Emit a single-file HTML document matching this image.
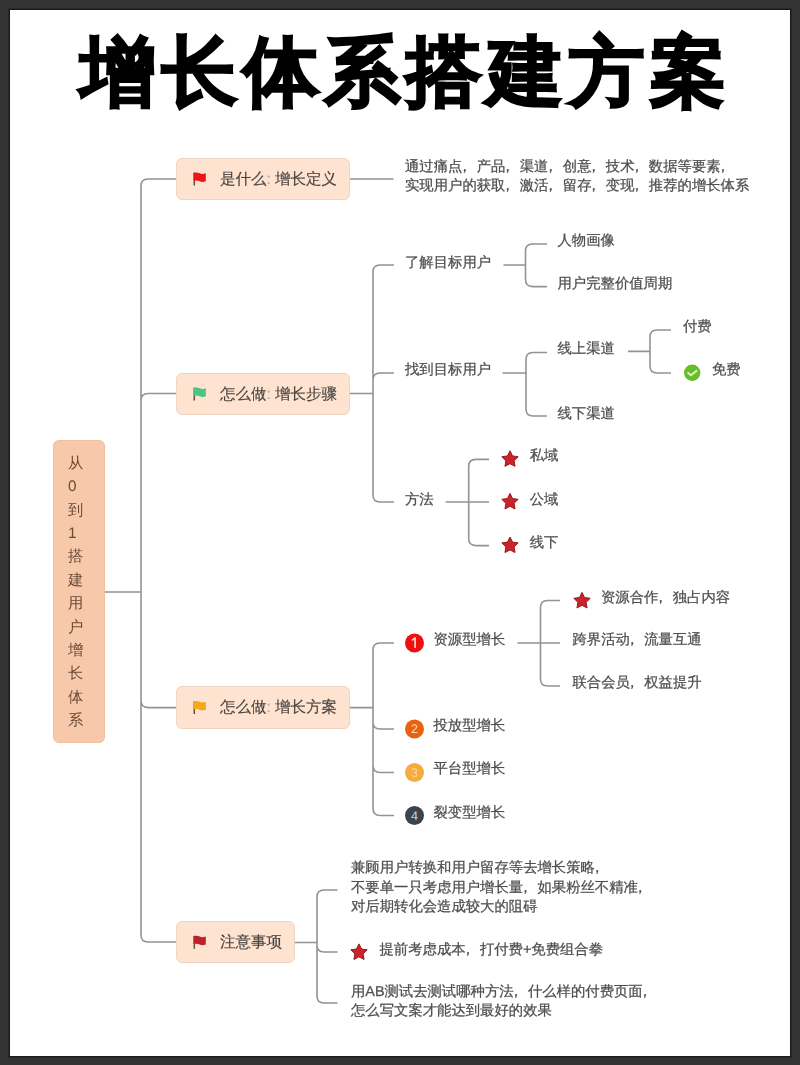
<!DOCTYPE html>
<html><head><meta charset="utf-8"><style>
html,body{margin:0;padding:0;}
*{text-rendering:geometricPrecision;}
body{width:800px;height:1065px;background:#333;position:relative;overflow:hidden;font-family:"Liberation Sans",sans-serif;}
.page{position:absolute;left:9.5px;top:10px;width:780.5px;height:1045.5px;background:#fff;box-shadow:0 0 0 1.5px #1c1c1c;}
.title{position:absolute;left:3px;top:22.5px;width:800px;text-align:center;font-size:76px;line-height:100px;font-weight:bold;color:#000;white-space:nowrap;letter-spacing:5.4px;text-indent:5.4px;-webkit-text-stroke:2.2px #000;}
.t{position:absolute;white-space:nowrap;transform:translateZ(0);-webkit-text-stroke:0.25px currentColor;}
.node{position:absolute;box-sizing:border-box;background:#fde3d0;border:1px solid #ecd5c2;border-radius:6px;}
.root{position:absolute;left:53px;top:440px;width:52px;height:303px;box-sizing:border-box;background:#f7c9aa;border:1px solid #efbf9f;border-radius:6px;}
.c{color:#b8aaa0;}
.cm{position:relative;left:-0.34em;margin-right:-0.0em;}
svg{position:absolute;left:0;top:0;}
</style></head><body>
<div class="page"></div>
<div class="title">增长体系搭建方案</div>
<svg width="800" height="1065" viewBox="0 0 800 1065"><path d="M105 592H141 M141 592V186Q141 179 148 179H176 M141 592V400.5Q141 393.5 148 393.5H176 M141 592V700.6Q141 707.6 148 707.6H176 M141 592V935Q141 942 148 942H176 M350 179H393.5 M350 393.5H373 M373 393.5V272Q373 265 380 265H394 M373 393.5V380Q373 373 380 373H394 M373 393.5V495Q373 502 380 502H394 M503.5 265H525.5 M525.5 265V251Q525.5 244 532.5 244H547 M525.5 265V279.6Q525.5 286.6 532.5 286.6H547 M502.5 373H526 M526 373V359.5Q526 352.5 533 352.5H547 M526 373V409Q526 416 533 416H547 M628 351.4H650 M650 351.4V337Q650 330 657 330H671 M650 351.4V366Q650 373 657 373H671 M445.6 502H468.7 M468.7 502V466.4Q468.7 459.4 475.7 459.4H489 M468.7 502H489 M468.7 502V538.6Q468.7 545.6 475.7 545.6H489 M350 707.6H373 M373 707.6V650Q373 643 380 643H394 M373 707.6V722Q373 729 380 729H394 M373 707.6V765.5Q373 772.5 380 772.5H394 M373 707.6V808.5Q373 815.5 380 815.5H394 M517.5 643H540.5 M540.5 643V607.5Q540.5 600.5 547.5 600.5H560 M540.5 643H560 M540.5 643V679Q540.5 686 547.5 686H560 M295 942.5H317 M317 942.5V897Q317 890 324 890H337.5 M317 942.5V945Q317 952 324 952H337.5 M317 942.5V996Q317 1003 324 1003H337.5" fill="none" stroke="#939397" stroke-width="1.6"/></svg>
<div class="root"></div>
<div class="node" style="left:176px;top:158px;width:174px;height:41.5px"></div><div class="node" style="left:176px;top:373px;width:174px;height:41.5px"></div><div class="node" style="left:176px;top:686px;width:174px;height:42.5px"></div><div class="node" style="left:176px;top:921px;width:119px;height:42px"></div>
<svg width="800" height="1065" viewBox="0 0 800 1065"><circle cx="692.2" cy="372.7" r="8.2" fill="#68bd2a"/><path d="M688.2 372.9L690.9000000000001 375.3L696.5 370.9" fill="none" stroke="#d8f5b8" stroke-width="2" stroke-linecap="round" stroke-linejoin="round"/><polygon points="510.00,450.80 512.53,455.92 518.18,456.74 514.09,460.73 515.05,466.36 510.00,463.70 504.95,466.36 505.91,460.73 501.82,456.74 507.47,455.92" fill="#cc2229" stroke="#931a1e" stroke-width="1" stroke-linejoin="round"/><polygon points="510.00,493.40 512.53,498.52 518.18,499.34 514.09,503.33 515.05,508.96 510.00,506.30 504.95,508.96 505.91,503.33 501.82,499.34 507.47,498.52" fill="#cc2229" stroke="#931a1e" stroke-width="1" stroke-linejoin="round"/><polygon points="510.00,537.00 512.53,542.12 518.18,542.94 514.09,546.93 515.05,552.56 510.00,549.90 504.95,552.56 505.91,546.93 501.82,542.94 507.47,542.12" fill="#cc2229" stroke="#931a1e" stroke-width="1" stroke-linejoin="round"/><circle cx="414.5" cy="643" r="9.5" fill="#ee1010"/><path d="M411.9 640.4L415.1 638V648" fill="none" stroke="#ffd0c8" stroke-width="1.7" stroke-linejoin="round"/><circle cx="414.5" cy="729" r="9.5" fill="#e8620f"/><text x="414.5" y="733.2" text-anchor="middle" style="font-family:&quot;Liberation Sans&quot;,sans-serif;font-size:12.5px" fill="#ffd8c0">2</text><circle cx="414.5" cy="772.5" r="9.5" fill="#f6ab3f"/><text x="414.5" y="776.7" text-anchor="middle" style="font-family:&quot;Liberation Sans&quot;,sans-serif;font-size:12.5px" fill="#fcd69c">3</text><circle cx="414.5" cy="815.5" r="9.5" fill="#3a4350"/><text x="414.5" y="819.7" text-anchor="middle" style="font-family:&quot;Liberation Sans&quot;,sans-serif;font-size:12.5px" fill="#d0d4d8">4</text><polygon points="582.00,592.40 584.53,597.52 590.18,598.34 586.09,602.33 587.05,607.96 582.00,605.30 576.95,607.96 577.91,602.33 573.82,598.34 579.47,597.52" fill="#cc2229" stroke="#931a1e" stroke-width="1" stroke-linejoin="round"/><polygon points="359.00,943.90 361.53,949.02 367.18,949.84 363.09,953.83 364.05,959.46 359.00,956.80 353.95,959.46 354.91,953.83 350.82,949.84 356.47,949.02" fill="#cc2229" stroke="#931a1e" stroke-width="1" stroke-linejoin="round"/><path d="M194.3 172.75V185.55" stroke="#6a4a3a" stroke-width="1.5"/><path d="M193.5 172.75C195.5 172.35 198.0 172.45 199.8 173.35C201.5 174.25 203.5 174.15 205.8 173.35V181.35C203.5 182.15 201.5 182.35 199.8 181.35C198.0 180.45 195.5 180.35 193.5 180.75Z" fill="#ee1515"/><path d="M194.3 387.75V400.55" stroke="#6a4a3a" stroke-width="1.5"/><path d="M193.5 387.75C195.5 387.35 198.0 387.45 199.8 388.35C201.5 389.25 203.5 389.15 205.8 388.35V396.35C203.5 397.15 201.5 397.35 199.8 396.35C198.0 395.45 195.5 395.35 193.5 395.75Z" fill="#4cc383"/><path d="M194.3 701.25V714.05" stroke="#6a4a3a" stroke-width="1.5"/><path d="M193.5 701.25C195.5 700.85 198.0 700.95 199.8 701.85C201.5 702.75 203.5 702.65 205.8 701.85V709.85C203.5 710.65 201.5 710.85 199.8 709.85C198.0 708.95 195.5 708.85 193.5 709.25Z" fill="#f5a818"/><path d="M194.3 936.0V948.8" stroke="#6a4a3a" stroke-width="1.5"/><path d="M193.5 936.0C195.5 935.6 198.0 935.7 199.8 936.6C201.5 937.5 203.5 937.4 205.8 936.6V944.6C203.5 945.4 201.5 945.6 199.8 944.6C198.0 943.7 195.5 943.6 193.5 944.0Z" fill="#c0202a"/></svg>
<div class="t" style="left:68px;top:454.00px;font-size:15.3px;line-height:20px;color:#6a4a38;-webkit-text-stroke:0">从</div><div class="t" style="left:68px;top:477.36px;font-size:15.3px;line-height:20px;color:#6a4a38;-webkit-text-stroke:0">0</div><div class="t" style="left:68px;top:500.72px;font-size:15.3px;line-height:20px;color:#6a4a38;-webkit-text-stroke:0">到</div><div class="t" style="left:68px;top:524.08px;font-size:15.3px;line-height:20px;color:#6a4a38;-webkit-text-stroke:0">1</div><div class="t" style="left:68px;top:547.44px;font-size:15.3px;line-height:20px;color:#6a4a38;-webkit-text-stroke:0">搭</div><div class="t" style="left:68px;top:570.80px;font-size:15.3px;line-height:20px;color:#6a4a38;-webkit-text-stroke:0">建</div><div class="t" style="left:68px;top:594.16px;font-size:15.3px;line-height:20px;color:#6a4a38;-webkit-text-stroke:0">用</div><div class="t" style="left:68px;top:617.52px;font-size:15.3px;line-height:20px;color:#6a4a38;-webkit-text-stroke:0">户</div><div class="t" style="left:68px;top:640.88px;font-size:15.3px;line-height:20px;color:#6a4a38;-webkit-text-stroke:0">增</div><div class="t" style="left:68px;top:664.24px;font-size:15.3px;line-height:20px;color:#6a4a38;-webkit-text-stroke:0">长</div><div class="t" style="left:68px;top:687.60px;font-size:15.3px;line-height:20px;color:#6a4a38;-webkit-text-stroke:0">体</div><div class="t" style="left:68px;top:710.96px;font-size:15.3px;line-height:20px;color:#6a4a38;-webkit-text-stroke:0">系</div>
<div class="t" style="left:405px;top:156.50px;font-size:14.35px;line-height:20px;color:#4e4e4e;">通过痛点<span class="cm">，</span>产品<span class="cm">，</span>渠道<span class="cm">，</span>创意<span class="cm">，</span>技术<span class="cm">，</span>数据等要素<span class="cm">，</span></div><div class="t" style="left:405px;top:176.00px;font-size:14.35px;line-height:20px;color:#4e4e4e;">实现用户的获取<span class="cm">，</span>激活<span class="cm">，</span>留存<span class="cm">，</span>变现<span class="cm">，</span>推荐的增长体系</div><div class="t" style="left:405px;top:253.00px;font-size:14.35px;line-height:20px;color:#4e4e4e;">了解目标用户</div><div class="t" style="left:405px;top:360.00px;font-size:14.35px;line-height:20px;color:#4e4e4e;">找到目标用户</div><div class="t" style="left:405px;top:490.00px;font-size:14.35px;line-height:20px;color:#4e4e4e;">方法</div><div class="t" style="left:557.5px;top:231.00px;font-size:14.35px;line-height:20px;color:#4e4e4e;">人物画像</div><div class="t" style="left:557.5px;top:273.60px;font-size:14.35px;line-height:20px;color:#4e4e4e;">用户完整价值周期</div><div class="t" style="left:557.5px;top:338.50px;font-size:14.35px;line-height:20px;color:#4e4e4e;">线上渠道</div><div class="t" style="left:557.5px;top:403.50px;font-size:14.35px;line-height:20px;color:#4e4e4e;">线下渠道</div><div class="t" style="left:683px;top:317.00px;font-size:14.35px;line-height:20px;color:#4e4e4e;">付费</div><div class="t" style="left:712px;top:360.00px;font-size:14.35px;line-height:20px;color:#4e4e4e;">免费</div><div class="t" style="left:529.7px;top:446.40px;font-size:14.35px;line-height:20px;color:#4e4e4e;">私域</div><div class="t" style="left:529.7px;top:490.00px;font-size:14.35px;line-height:20px;color:#4e4e4e;">公域</div><div class="t" style="left:529.7px;top:532.60px;font-size:14.35px;line-height:20px;color:#4e4e4e;">线下</div><div class="t" style="left:433.5px;top:630.00px;font-size:14.35px;line-height:20px;color:#4e4e4e;">资源型增长</div><div class="t" style="left:433.5px;top:716.00px;font-size:14.35px;line-height:20px;color:#4e4e4e;">投放型增长</div><div class="t" style="left:433.5px;top:759.00px;font-size:14.35px;line-height:20px;color:#4e4e4e;">平台型增长</div><div class="t" style="left:433.5px;top:802.50px;font-size:14.35px;line-height:20px;color:#4e4e4e;">裂变型增长</div><div class="t" style="left:601px;top:587.50px;font-size:14.35px;line-height:20px;color:#4e4e4e;">资源合作<span class="cm">，</span>独占内容</div><div class="t" style="left:572.5px;top:630.00px;font-size:14.35px;line-height:20px;color:#4e4e4e;">跨界活动<span class="cm">，</span>流量互通</div><div class="t" style="left:572.5px;top:672.50px;font-size:14.35px;line-height:20px;color:#4e4e4e;">联合会员<span class="cm">，</span>权益提升</div><div class="t" style="left:351px;top:858.00px;font-size:14.35px;line-height:20px;color:#4e4e4e;">兼顾用户转换和用户留存等去增长策略<span class="cm">，</span></div><div class="t" style="left:351px;top:878.00px;font-size:14.35px;line-height:20px;color:#4e4e4e;">不要单一只考虑用户增长量<span class="cm">，</span>如果粉丝不精准<span class="cm">，</span></div><div class="t" style="left:351px;top:897.00px;font-size:14.35px;line-height:20px;color:#4e4e4e;">对后期转化会造成较大的阻碍</div><div class="t" style="left:379.5px;top:940.00px;font-size:14.35px;line-height:20px;color:#4e4e4e;">提前考虑成本<span class="cm">，</span>打付费+免费组合拳</div><div class="t" style="left:351px;top:982.00px;font-size:14.35px;line-height:20px;color:#4e4e4e;">用AB测试去测试哪种方法<span class="cm">，</span>什么样的付费页面<span class="cm">，</span></div><div class="t" style="left:351px;top:1001.00px;font-size:14.35px;line-height:20px;color:#4e4e4e;">怎么写文案才能达到最好的效果</div><div class="t" style="left:220px;top:169.75px;font-size:15.5px;line-height:20px;color:#4a4440;-webkit-text-stroke:0.15px currentColor">是什么<span class="c">:</span> 增长定义</div><div class="t" style="left:220px;top:384.75px;font-size:15.5px;line-height:20px;color:#4a4440;-webkit-text-stroke:0.15px currentColor">怎么做<span class="c">:</span> 增长步骤</div><div class="t" style="left:220px;top:698.25px;font-size:15.5px;line-height:20px;color:#4a4440;-webkit-text-stroke:0.15px currentColor">怎么做<span class="c">:</span> 增长方案</div><div class="t" style="left:220px;top:933.00px;font-size:15.5px;line-height:20px;color:#4a4440;-webkit-text-stroke:0.15px currentColor">注意事项</div>
</body></html>
